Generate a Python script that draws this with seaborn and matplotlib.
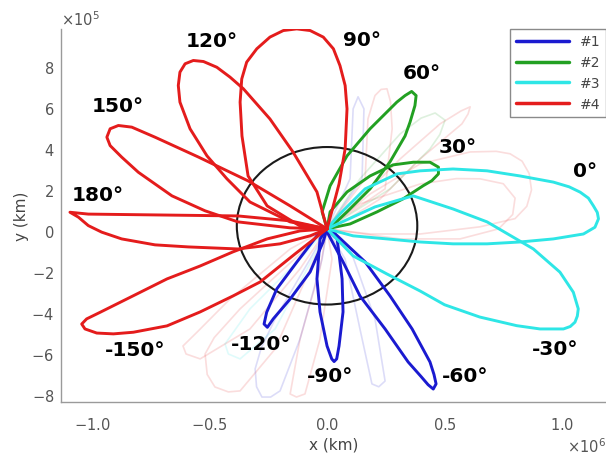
import pandas as pd
import seaborn as sns
import matplotlib.pyplot as plt
from matplotlib.patches import Ellipse
from matplotlib.ticker import ScalarFormatter

# coordinates, in units of 1e5 km

# group #4 (red)
loop_180_x = [0, -1.57, -3.79, -7.32, -10.16, -10.94, -10.58, -10.16, -9.59, -8.74, -7.32, -5.91, -3.79, -2.0, -0.72, 0]
loop_180_y = [0.1, 0.49, 0.73, 0.78, 0.82, 0.91, 0.67, 0.26, -0.06, -0.39, -0.68, -0.78, -0.88, -0.63, -0.24, 0.1]

loop_150_x = [0, -1.57, -3.79, -5.19, -6.6, -8.03, -8.74, -9.23, -9.37, -9.23, -8.88, -8.31, -7.32, -5.49, -3.36, -1.57, 0]
loop_150_y = [0.1, 0.15, 0.44, 0.98, 1.71, 2.86, 3.6, 4.16, 4.57, 4.98, 5.14, 5.06, 4.57, 3.61, 2.44, 1.22, 0.1]

loop_120_x = [0, -1.57, -3.28, -4.26, -5.11, -5.83, -6.26, -6.33, -6.26, -6.04, -5.69, -5.26, -4.69, -4.13, -3.56, -2.43, -1.45, -0.43, 0]
loop_120_y = [0.1, 0.44, 1.41, 2.54, 3.66, 4.98, 6.28, 7.09, 7.74, 8.15, 8.31, 8.26, 7.98, 7.5, 6.93, 5.46, 3.85, 1.9, 0.1]

loop_90_x = [0, -1.15, -2.55, -3.36, -3.62, -3.70, -3.63, -3.42, -2.99, -2.43, -1.86, -1.29, -0.72, -0.16, 0.27, 0.55, 0.77, 0.85, 0.77, 0.51, 0.21, 0]
loop_90_y = [0.1, 0.24, 1.22, 2.68, 4.63, 6.28, 7.41, 8.23, 8.88, 9.45, 9.77, 9.85, 9.77, 9.45, 8.88, 8.06, 7.09, 5.95, 4.0, 2.29, 0.98, 0.1]

loop_m150_x = [0, -1.15, -2.55, -4.0, -5.4, -6.81, -8.26, -9.66, -10.23, -10.44, -10.3, -9.8, -9.09, -8.24, -6.81, -5.4, -4.0, -2.85, -1.36, 0]
loop_m150_y = [0.1, 0.0, -0.39, -1.02, -1.71, -2.34, -3.17, -3.97, -4.29, -4.54, -4.78, -4.98, -5.02, -4.94, -4.63, -3.95, -3.17, -2.49, -1.12, 0.1]

# group #2 (green)
loop_60_x = [0, -0.21, 0.13, 0.85, 1.83, 2.97, 3.32, 3.6, 3.79, 3.74, 3.53, 3.32, 2.68, 1.83, 0.85, 0.26, 0]
loop_60_y = [0.1, 0.93, 2.2, 3.66, 4.98, 6.28, 6.6, 6.8, 6.6, 6.11, 5.3, 4.63, 3.37, 2.05, 0.93, 0.29, 0.1]

loop_30_x = [0, 0.13, 0.85, 1.83, 2.81, 3.67, 4.38, 4.74, 4.74, 4.46, 4.1, 3.23, 2.13, 0.98, 0]
loop_30_y = [0.1, 0.93, 1.9, 2.68, 3.22, 3.35, 3.35, 3.11, 2.78, 2.45, 2.21, 1.56, 0.93, 0.34, 0.1]

# group #3 (cyan)
loop_0_x = [0, 0.55, 1.62, 2.98, 3.96, 5.36, 6.81, 8.21, 9.63, 10.3, 10.77, 11.12, 11.33, 11.5, 11.55, 11.4, 10.91, 9.63, 8.21, 6.81, 5.36, 3.96, 2.55, 1.11, 0]
loop_0_y = [0.1, 0.83, 2.05, 2.78, 2.93, 3.02, 2.93, 2.68, 2.38, 2.15, 1.89, 1.6, 1.23, 0.9, 0.59, 0.18, -0.15, -0.39, -0.54, -0.63, -0.63, -0.54, -0.39, -0.24, 0.1]

loop_m30_x = [0, 0.55, 2.04, 3.66, 5.36, 6.81, 8.78, 9.91, 10.48, 10.69, 10.65, 10.55, 10.35, 10.06, 9.06, 8.07, 6.5, 5.0, 3.96, 2.55, 1.11, 0]
loop_m30_y = [0.1, 0.39, 1.17, 1.71, 1.07, 0.44, -0.88, -2.01, -2.99, -3.8, -4.15, -4.45, -4.66, -4.78, -4.78, -4.62, -4.2, -3.6, -2.93, -2.1, -1.22, 0.1]

# group #1 (blue)
loop_m60_x = [0, 0, 0.68, 1.4, 2.47, 3.45, 4.0, 4.3, 4.52, 4.64, 4.55, 4.38, 3.62, 2.68, 1.62, 0.26, 0]
loop_m60_y = [0.1, -0.05, -1.51, -3.17, -4.78, -6.39, -7.1, -7.5, -7.71, -7.46, -7.0, -6.39, -4.78, -3.17, -1.51, -0.05, 0.1]

loop_m90_x = [0, -0.3, -0.43, -0.3, 0, 0.2, 0.3, 0.41, 0.51, 0.68, 0.64, 0.43, 0]
loop_m90_y = [0.1, -0.39, -2.34, -3.95, -5.61, -6.24, -6.37, -6.24, -5.61, -3.95, -2.34, -0.39, 0.1]

loop_m120_x = [0, -0.43, -1.28, -2.14, -2.57, -2.68, -2.54, -2.29, -1.57, -0.72, -0.17, 0]
loop_m120_y = [0.1, -0.24, -1.51, -2.83, -3.97, -4.54, -4.7, -4.29, -3.32, -2.0, -0.54, 0.1]

# faint background loops
faint_a_x = [0, 1.4, 3.11, 4.81, 5.7, 6.09, 6.0, 5.74, 3.96, 2.26, 0.55, 0]
faint_a_y = [0.1, 1.56, 3.51, 5.22, 5.85, 6.05, 5.7, 5.22, 3.51, 1.56, 0.34, 0.1]
faint_b_x = [0, 1.83, 3.96, 6.09, 7.2, 7.79, 8.3, 8.6, 8.7, 8.5, 8.0, 6.51, 3.96, 1.83, 0]
faint_b_y = [0.1, 1.8, 3.27, 3.85, 3.88, 3.76, 3.4, 2.8, 2.0, 1.2, 0.6, 0.2, -0.15, -0.15, 0.1]
faint_c_x = [0, 1.4, 3.96, 5.5, 6.51, 7.5, 8.0, 7.9, 7.3, 5.66, 3.11, 0]
faint_c_y = [0.1, 1.32, 2.29, 2.55, 2.54, 2.3, 1.6, 0.8, 0.1, -0.39, -0.39, 0.1]
faint_d_x = [0, 1.4, 3.11, 4.0, 4.6, 5.02, 4.8, 4.38, 2.68, 0]
faint_d_y = [0.1, 2.54, 4.73, 5.5, 5.75, 5.4, 4.7, 4.0, 2.05, 0.1]
faint_e_x = [0, 1.62, 1.74, 2.04, 2.3, 2.55, 2.7, 2.77, 2.47, 0]
faint_e_y = [0.1, 2.54, 5.46, 6.6, 6.9, 6.93, 6.3, 4.98, 2.05, 0.1]
faint_f_x = [0, 0.98, 1.11, 1.32, 1.57, 1.49, 0]
faint_f_y = [0.1, 2.54, 5.95, 6.54, 5.95, 2.54, 0.1]
faint_g_x = [0, -1.57, -4.13, -5.5, -6.13, -6.0, -5.4, -3.28, -1.15, 0]
faint_g_y = [0.1, -0.88, -3.32, -4.9, -5.61, -6.0, -6.24, -4.78, -1.85, 0.1]
faint_h_x = [0, -1.15, -3.7, -4.8, -5.19, -5.1, -4.77, -4.2, -3.7, -2.21, -0.72, 0]
faint_h_y = [0.1, -1.12, -3.8, -5.2, -6.0, -7.0, -7.61, -7.85, -7.8, -5.76, -1.85, 0.1]
faint_i_x = [0, -0.72, -2.21, -2.8, -3.06, -3.0, -2.77, -2.4, -2.0, -1.15, -0.21, 0]
faint_i_y = [0.1, -1.37, -4.29, -5.7, -6.73, -7.6, -8.1, -8.1, -7.8, -5.27, -1.37, 0.1]
faint_j_x = [0, -1.15, -3.28, -4.34, -4.2, -3.7, -2.21, -0.51, 0]
faint_j_y = [0.1, -1.37, -3.8, -5.51, -6.0, -6.24, -4.78, -1.12, 0.1]
faint_k_x = [0, 0.77, 1.4, 1.91, 2.2, 2.47, 2.04, 0.98, 0]
faint_k_y = [0.1, -1.37, -4.78, -7.46, -7.6, -7.32, -4.29, -0.88, 0.1]
faint_l_x = [0, -0.3, -1.15, -1.57, -1.3, -0.94, -0.3, 0.21, 0]
faint_l_y = [0.1, -1.85, -5.27, -7.95, -8.1, -7.95, -5.27, -1.37, 0.1]

group_names = ["#1", "#2", "#3", "#4"]
group_colors = ["#1a1ad0", "#22a022", "#2ee6e6", "#e41c1c"]

loop_angles = ["180°", "150°", "120°", "90°", "-150°", "60°", "30°", "0°", "-30°", "-60°", "-90°", "-120°"]
label_x = [-9.74, -8.89, -4.89, 1.49, -8.17, 4.04, 5.57, 10.98, 9.7, 5.87, 0.13, -2.81]
label_y = [1.76, 6.1, 9.27, 9.32, -5.76, 7.71, 4.1, 2.93, -5.71, -7.07, -7.07, -5.51]

moon_center = (0.0, 0.25)
moon_radius = 3.84

main_loops = [
    ("180", "#4", loop_180_x, loop_180_y),
    ("150", "#4", loop_150_x, loop_150_y),
    ("120", "#4", loop_120_x, loop_120_y),
    ("90", "#4", loop_90_x, loop_90_y),
    ("-150", "#4", loop_m150_x, loop_m150_y),
    ("60", "#2", loop_60_x, loop_60_y),
    ("30", "#2", loop_30_x, loop_30_y),
    ("0", "#3", loop_0_x, loop_0_y),
    ("-30", "#3", loop_m30_x, loop_m30_y),
    ("-60", "#1", loop_m60_x, loop_m60_y),
    ("-90", "#1", loop_m90_x, loop_m90_y),
    ("-120", "#1", loop_m120_x, loop_m120_y),
]
faint_loops = [
    ("a", "#4", faint_a_x, faint_a_y), ("b", "#4", faint_b_x, faint_b_y),
    ("c", "#4", faint_c_x, faint_c_y), ("d", "#2", faint_d_x, faint_d_y),
    ("e", "#4", faint_e_x, faint_e_y), ("f", "#1", faint_f_x, faint_f_y),
    ("g", "#4", faint_g_x, faint_g_y), ("h", "#4", faint_h_x, faint_h_y),
    ("i", "#1", faint_i_x, faint_i_y), ("j", "#3", faint_j_x, faint_j_y),
    ("k", "#1", faint_k_x, faint_k_y), ("l", "#4", faint_l_x, faint_l_y),
]


def to_frame(loops):
    rows = []
    for name, grp, xs, ys in loops:
        for i, (x, y) in enumerate(zip(xs, ys)):
            rows.append({"loop": name, "grupo": grp, "i": i, "x": x * 1e5, "y": y * 1e5})
    return pd.DataFrame(rows)


df_main = to_frame(main_loops)
df_faint = to_frame(faint_loops)
palette = dict(zip(group_names, group_colors))

sns.set_style("white")
fig = plt.figure(figsize=(6.06, 4.6), dpi=100)
ax = fig.add_axes([0.1007, 0.124, 0.8993, 0.811])

sns.lineplot(data=df_faint, x="x", y="y", hue="grupo", units="loop", estimator=None,
             sort=False, palette=palette, lw=1.2, alpha=0.15, legend=False, ax=ax,
             solid_joinstyle="round")

ax.add_patch(Ellipse((moon_center[0] * 1e5, moon_center[1] * 1e5), 2 * moon_radius * 1e5,
                     2 * moon_radius * 1e5, fill=False, ec="#1a1a1a", lw=1.5, zorder=2))

sns.lineplot(data=df_main, x="x", y="y", hue="grupo", hue_order=group_names, units="loop",
             estimator=None, sort=False, palette=palette, lw=2.1, ax=ax, zorder=3,
             solid_joinstyle="round", solid_capstyle="round")

for txt, lx, ly in zip(loop_angles, label_x, label_y):
    ax.text(lx * 1e5, ly * 1e5, txt, fontsize=14.5, fontweight="bold", color="black",
            ha="center", va="center", zorder=5)

ax.set_xlim(-11.32e5, 11.87e5)
ax.set_ylim(-8.34e5, 9.85e5)
ax.set_xticks([-1e6, -0.5e6, 0, 0.5e6, 1e6])
ax.set_yticks([-8e5, -6e5, -4e5, -2e5, 0, 2e5, 4e5, 6e5, 8e5])
for axis in (ax.xaxis, ax.yaxis):
    fmt = ScalarFormatter(useMathText=True)
    fmt.set_powerlimits((0, 0))
    axis.set_major_formatter(fmt)

ax.spines["top"].set_visible(False)
ax.spines["right"].set_visible(False)
for s in ("left", "bottom"):
    ax.spines[s].set_color("#9a9a9a")
    ax.spines[s].set_linewidth(1.0)
ax.tick_params(direction="in", length=4, color="#9a9a9a", labelcolor="#555555", labelsize=10.5)
ax.tick_params(axis="x", pad=10)
ax.tick_params(axis="y", pad=5)
ax.xaxis.get_offset_text().set(color="#555555", fontsize=10.5)
ax.yaxis.get_offset_text().set(color="#555555", fontsize=10.5)

ax.set_xlabel("x (km)", fontsize=11, color="#444444", labelpad=3)
ax.set_ylabel("y (km)", fontsize=11, color="#444444", labelpad=2)

h, l = ax.get_legend_handles_labels()
leg = ax.legend(h, l, loc="upper right", bbox_to_anchor=(1.0, 1.0), borderaxespad=0.0,
                fontsize=10, handlelength=3.8, labelspacing=0.5, frameon=True,
                fancybox=False, edgecolor="#8a8a8a", framealpha=1.0)
for line in leg.get_lines():
    line.set_linewidth(2.5)
for t in leg.get_texts():
    t.set_color("#444444")

fig.savefig("out.png", dpi=100)
